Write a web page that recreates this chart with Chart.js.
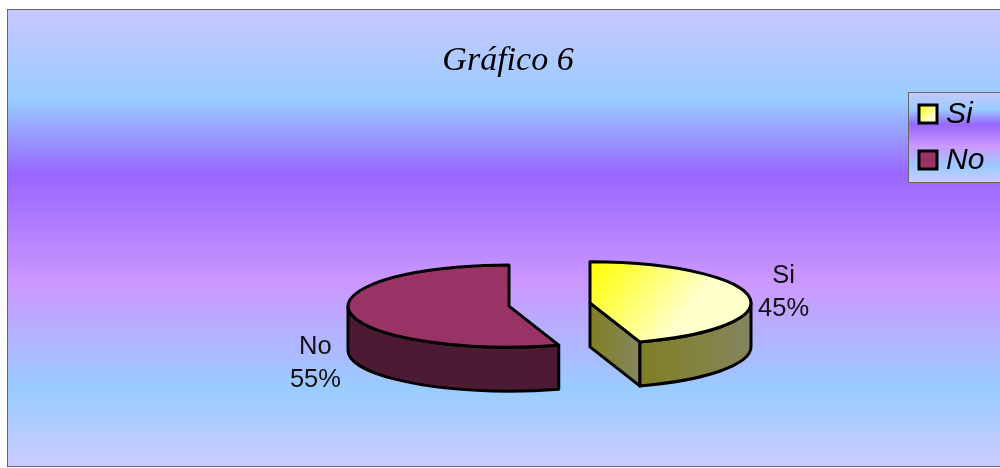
<!DOCTYPE html>
<html>
<head>
<meta charset="utf-8">
<title>Gráfico 6</title>
<script src="https://cdn.jsdelivr.net/npm/chart.js@4"></script>
<style>
    html, body { margin: 0; padding: 0; width: 1000px; height: 468px; overflow: hidden; background: #fff; }
    #frame { position: absolute; left: 7px; top: 9px; width: 1002px; height: 458px; box-sizing: border-box; border: 1px solid #666; }
    canvas { display: block; }
</style>
</head>
<body>
<div id="frame"><canvas id="pieChart" width="1000" height="456"></canvas></div>
<script>
const chartTitle = 'Gráfico 6';
const categories = ['Si', 'No'];
const values = [45, 55];
const sliceColors = ['#ffffcc', '#993366'];
const sliceGlow = ['#ffff00', '#993366'];
const sideStart = ['#7f7f22', '#4d1a33'];
const sideEnd = ['#85855f', '#4d1a33'];
const bandStops = [0, 0.197, 0.362, 0.603, 0.833, 1];
const bandColors = ['#c8c8ff', '#99ccff', '#9966ff', '#cc99ff', '#99ccff', '#ccccff'];

// --- Fake 3D settings ---
const PIE_X = 541.5;
const PIE_Y = 294.5;
const RADIUS = 161;
const TILT = 0.255;
const DEPTH = 44;
const EXPLODE = 41;
const LABEL_DIST = 196;

function bandGradient(ctx, top, bottom) {
    const g = ctx.createLinearGradient(0, top, 0, bottom);
    bandStops.forEach((s, i) => g.addColorStop(s, bandColors[i]));
    return g;
}

function topFace(c) {
    const area = c.chart.chartArea;
    if (!area) return sliceColors[c.dataIndex];
    const cx = (area.left + area.right) / 2;
    const cy = (area.top + area.bottom) / 2;
    const g = c.chart.ctx.createLinearGradient(cx, cy - RADIUS, cx + 130, cy - RADIUS + 25);
    g.addColorStop(0, sliceGlow[c.dataIndex]);
    g.addColorStop(1, sliceColors[c.dataIndex]);
    return g;
}

function sideFill(ctx, i, x0, x1) {
    const g = ctx.createLinearGradient(x0, 0, x1, 0);
    g.addColorStop(0, sideStart[i]);
    g.addColorStop(1, sideEnd[i]);
    return g;
}

function drawFace(ctx, fill, tracePath) {
    ctx.beginPath();
    tracePath();
    ctx.closePath();
    ctx.fillStyle = fill;
    ctx.fill();
    ctx.stroke();
}

function drawSides(ctx, i, ax, ay, r, start, end) {
    const ry = r * TILT;
    const from = Math.max(start, 0);
    const to = Math.min(end, Math.PI);
    // rim facing the viewer
    if (to > from) {
        const x0 = ax + Math.cos(to) * r;
        const x1 = ax + Math.cos(from) * r;
        drawFace(ctx, sideFill(ctx, i, x0, x1), () => {
            ctx.ellipse(ax, ay, r, ry, 0, from, to);
            ctx.lineTo(ax + Math.cos(to) * r, ay + Math.sin(to) * ry + DEPTH);
            ctx.ellipse(ax, ay + DEPTH, r, ry, 0, to, from, true);
        });
    }
    // cut faces, only the ones turned towards the viewer
    [[end, Math.cos(end)], [start, -Math.cos(start)]].forEach(([a, facing]) => {
        if (facing < 0.01) return;
        const ex = ax + Math.cos(a) * r;
        const ey = ay + Math.sin(a) * ry;
        drawFace(ctx, sideFill(ctx, i, Math.min(ax, ex), Math.max(ax, ex)), () => {
            ctx.moveTo(ax, ay);
            ctx.lineTo(ex, ey);
            ctx.lineTo(ex, ey + DEPTH);
            ctx.lineTo(ax, ay + DEPTH);
        });
    });
}

function drawLabels(ctx, i, ax, ay, mid) {
    const total = values.reduce((a, b) => a + b, 0);
    const x = ax + Math.cos(mid) * LABEL_DIST;
    const y = ay + Math.sin(mid) * LABEL_DIST * TILT + (Math.sin(mid) > 0 ? DEPTH + 6 : -3);
    ctx.fillStyle = '#111';
    ctx.font = '25.5px "Liberation Sans"';
    ctx.textAlign = 'center';
    ctx.textBaseline = 'middle';
    ctx.fillText(categories[i], x, y - 16.5);
    ctx.fillText(Math.round(values[i] / total * 100) + '%', x, y + 16.5);
}

function drawLegend(ctx) {
    const left = 900, top = 82, height = 90;
    ctx.fillStyle = bandGradient(ctx, top, top + height);
    ctx.fillRect(left, top, 100, height);
    ctx.strokeStyle = '#666';
    ctx.lineWidth = 1;
    ctx.strokeRect(left + 0.5, top + 0.5, 110, height);
    categories.forEach((name, i) => {
        const y = top + 13 + i * 46;
        const g = ctx.createLinearGradient(left + 11, y, left + 29, y + 18);
        g.addColorStop(0, sliceGlow[i]);
        g.addColorStop(0.7, sliceColors[i]);
        ctx.fillStyle = g;
        ctx.strokeStyle = '#000';
        ctx.lineWidth = 3;
        ctx.fillRect(left + 11, y, 18, 18);
        ctx.strokeRect(left + 11, y, 18, 18);
        ctx.fillStyle = '#000';
        ctx.font = 'italic 30px "Liberation Sans"';
        ctx.textAlign = 'left';
        ctx.textBaseline = 'middle';
        ctx.fillText(name, left + 38, y + 10);
    });
}

const pie3d = {
    id: 'pie3d',
    beforeDraw(chart) {
        const ctx = chart.ctx;
        ctx.fillStyle = bandGradient(ctx, 0, chart.height);
        ctx.fillRect(0, 0, chart.width, chart.height);
    },
    beforeDatasetDraw(chart, args) {
        const ctx = chart.ctx;
        args.meta.data.forEach((arc, i) => {
            const { x, y, startAngle, endAngle, outerRadius } = arc.getProps(['x', 'y', 'startAngle', 'endAngle', 'outerRadius'], true);
            const mid = (startAngle + endAngle) / 2;
            const ax = PIE_X + Math.cos(mid) * EXPLODE;
            const ay = PIE_Y + Math.sin(mid) * EXPLODE * TILT;

            ctx.save();
            ctx.strokeStyle = '#000';
            ctx.lineWidth = 3;
            ctx.lineJoin = 'round';
            drawSides(ctx, i, ax, ay, outerRadius, startAngle, endAngle);

            // the slice itself, squashed onto the tilted plane
            ctx.save();
            ctx.translate(ax, ay);
            ctx.scale(1, TILT);
            ctx.translate(-x, -y);
            arc.draw(ctx);
            ctx.restore();

            ctx.beginPath();
            ctx.moveTo(ax, ay);
            ctx.ellipse(ax, ay, outerRadius, outerRadius * TILT, 0, startAngle, endAngle);
            ctx.closePath();
            ctx.stroke();

            drawLabels(ctx, i, ax, ay, mid);
            ctx.restore();
        });
        return false; // already drawn above
    },
    afterDraw(chart) {
        drawLegend(chart.ctx);
    }
};

new Chart(document.getElementById('pieChart'), {
    type: 'pie',
    data: {
        labels: categories,
        datasets: [{
            data: values,
            backgroundColor: topFace,
            borderWidth: 0,
            clip: false
        }]
    },
    options: {
        responsive: false,
        animation: false,
        radius: RADIUS,
        plugins: {
            legend: { display: false },
            tooltip: { enabled: false },
            title: {
                display: true,
                text: chartTitle,
                color: '#000',
                font: { family: '"Liberation Serif"', style: 'italic', weight: 'normal', size: 34 },
                padding: { top: 31, bottom: 10 }
            }
        }
    },
    plugins: [pie3d]
});
</script>
</body>
</html>
